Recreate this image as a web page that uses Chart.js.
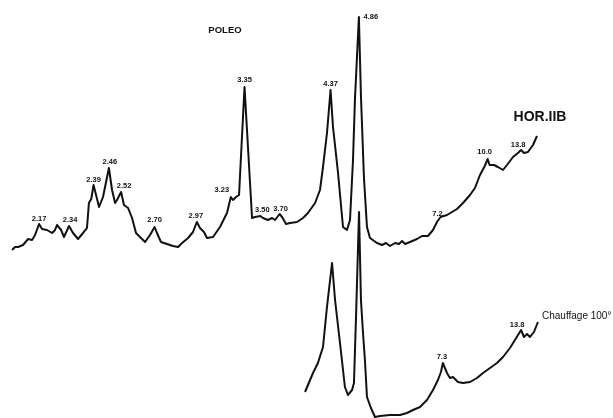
<!DOCTYPE html>
<html>
<head>
<meta charset="utf-8">
<script src="https://cdn.jsdelivr.net/npm/chart.js@4.4.1/dist/chart.umd.min.js"></script>
<style>
  html, body { margin: 0; padding: 0; background: #fff; }
  #wrap { position: relative; width: 613px; height: 418px; }
</style>
</head>
<body>
<div id="wrap"><canvas id="xrd"></canvas></div>
<script>
// X-ray diffractogram of sample HOR.IIB (POLEO), Cu Kα radiation.
// x = 2θ in degrees (high angles on the left), y = intensity in arbitrary counts.

// Untreated sample HOR.IIB
const horTwoTheta = [
  43.56, 43.34, 43.12, 42.76, 42.39, 42.10, 41.88, 41.59, 41.37, 41.01,
  40.64, 40.42, 40.28, 39.98, 39.77, 39.40, 39.11, 38.74, 38.38, 38.09,
  37.95, 37.78, 37.61, 37.21, 36.92, 36.49, 36.26, 36.04, 35.90, 35.60,
  35.39, 35.09, 34.80, 34.51, 34.22, 33.85, 33.49, 33.15, 32.98, 32.69,
  32.25, 31.81, 31.44, 31.15, 30.71, 30.35, 30.07, 29.84, 29.55, 29.33,
  28.89, 28.38, 27.87, 27.59, 27.43, 27.21, 26.99, 26.59, 26.04, 25.82,
  25.43, 25.24, 24.88, 24.58, 24.36, 24.03, 23.85, 23.56, 23.27, 22.76,
  22.32, 21.96, 21.44, 21.08, 20.86, 20.57, 20.31, 20.13, 19.77, 19.40,
  19.11, 18.89, 18.67, 18.53, 18.24, 18.09, 17.87, 17.65, 17.43, 16.92,
  16.55, 16.26, 15.97, 15.60, 15.31, 15.09, 14.87, 14.51, 14.00, 13.63,
  13.20, 12.83, 12.54, 12.28, 11.81, 11.44, 11.08, 10.64, 10.13, 9.77,
  9.40, 9.05, 8.84, 8.70, 8.38, 8.09, 7.72, 7.43, 6.99, 6.63,
  6.40, 6.19, 5.90, 5.53, 5.24
];
const horCounts = [
  840, 855, 855, 865, 895, 890, 915, 970, 945, 940,
  925, 940, 965, 940, 905, 960, 925, 895, 925, 950,
  1075, 1095, 1165, 1055, 1105, 1250, 1140, 1075, 1090, 1130,
  1065, 1050, 1000, 925, 905, 880, 915, 955, 925, 880,
  870, 860, 855, 875, 900, 930, 980, 950, 930, 900,
  905, 955, 1025, 1105, 1090, 1105, 1115, 1655, 1000, 1005,
  1010, 1000, 990, 1000, 990, 1020, 1005, 970, 975, 980,
  1000, 1025, 1075, 1140, 1255, 1425, 1640, 1455, 1230, 955,
  940, 990, 1290, 1590, 2005, 1610, 1200, 955, 900, 875,
  865, 875, 860, 875, 870, 885, 870, 880, 895, 910,
  910, 940, 980, 1005, 1015, 1030, 1045, 1075, 1115, 1150,
  1215, 1260, 1295, 1265, 1265, 1255, 1240, 1265, 1305, 1325,
  1340, 1325, 1330, 1365, 1410
];

// Same sample after heating to 100 °C
const heatedTwoTheta = [
  22.17, 21.96, 21.59, 21.23, 20.86, 20.57, 20.20, 19.98, 19.62, 19.26,
  19.04, 18.74, 18.60, 18.45, 18.23, 18.09, 17.94, 17.80, 17.65, 17.36,
  17.07, 16.70, 15.97, 15.24, 14.73, 14.29, 13.78, 13.27, 12.83, 12.47,
  12.25, 12.11, 11.81, 11.59, 11.37, 11.01, 10.64, 10.13, 9.62, 9.18,
  8.67, 8.16, 7.72, 7.21, 6.85, 6.40, 6.19, 5.97, 5.75, 5.46,
  5.17
];
const heatedCounts = [
  130, 165, 225, 275, 355, 555, 775, 590, 375, 155,
  115, 140, 175, 505, 1030, 590, 425, 290, 105, 50,
  5, 10, 15, 15, 25, 40, 55, 90, 140, 190,
  230, 275, 225, 200, 205, 180, 175, 180, 200, 225,
  250, 275, 305, 350, 390, 440, 405, 420, 405, 430,
  480
];

// d-spacings (Å) written above the peaks, with the 2θ of each peak
const horPeakD = ['2.17', '2.34', '2.39', '2.46', '2.52', '2.70', '2.97', '3.23',
                  '3.35', '3.50', '3.70', '4.37', '4.86', '7.2', '10.0', '13.8'];
const horPeakTwoTheta = [41.59, 39.40, 37.61, 36.49, 35.60, 33.15, 30.07, 27.59,
                         26.59, 25.43, 24.03, 20.31, 18.24, 12.28, 8.84, 6.40];
const heatedPeakD = ['7.3', '13.8'];
const heatedPeakTwoTheta = [12.11, 6.40];

// Pixel nudges for each peak label relative to its peak
const horLabelNudge = [[0, -5], [1, -6], [0, -5], [1, -6], [3, -6], [0, -7], [-1, -6], [-9, -7],
                       [0, -7], [2, -6], [1, -5], [0, -6], [12, 0], [-3, -3], [-3, -7], [-3, -5]];
const heatedLabelNudge = [[-1, -6], [-4, -5]];

const FONT = '"Liberation Sans", Arial, Helvetica, sans-serif';

const annotations = {
  id: 'annotations',
  afterDatasetsDraw(chart) {
    const ctx = chart.ctx;
    const xs = chart.scales.x, ys = chart.scales.y;
    const area = chart.chartArea;

    const labelPeaks = (dsIndex, texts, positions, nudges) => {
      const pts = chart.data.datasets[dsIndex].data;
      texts.forEach((t, i) => {
        const pt = pts.reduce((a, b) =>
          Math.abs(b.x - positions[i]) < Math.abs(a.x - positions[i]) ? b : a);
        const px = xs.getPixelForValue(pt.x) + nudges[i][0];
        const py = ys.getPixelForValue(pt.y) + nudges[i][1];
        ctx.fillText(t, px, py);
      });
    };

    ctx.save();
    ctx.fillStyle = '#111';
    ctx.textAlign = 'center';
    ctx.textBaseline = 'middle';
    ctx.font = 'bold 7.5px ' + FONT;
    labelPeaks(0, horPeakD, horPeakTwoTheta, horLabelNudge);
    labelPeaks(1, heatedPeakD, heatedPeakTwoTheta, heatedLabelNudge);

    ctx.font = 'bold 9.5px ' + FONT;
    ctx.fillText('POLEO', area.left + 225, area.top + 30);

    ctx.font = 'bold 14px ' + FONT;
    ctx.fillText('HOR.IIB', area.left + 540, area.top + 117);

    ctx.font = '10px ' + FONT;
    ctx.textAlign = 'left';
    ctx.fillText('Chauffage 100°', area.left + 542, area.top + 316);
    ctx.restore();
  }
};

const traceStyle = {
  borderColor: '#111',
  borderWidth: 2,
  borderJoinStyle: 'round',
  pointRadius: 0,
  tension: 0,
  fill: false
};

new Chart(document.getElementById('xrd'), {
  type: 'line',
  data: {
    datasets: [
      Object.assign({ label: 'HOR.IIB', data: horTwoTheta.map((x, i) => ({ x, y: horCounts[i] })) }, traceStyle),
      Object.assign({ label: 'Chauffage 100°', data: heatedTwoTheta.map((x, i) => ({ x, y: heatedCounts[i] })) }, traceStyle)
    ]
  },
  options: {
    responsive: true,
    maintainAspectRatio: false,
    animation: false,
    layout: { padding: 0 },
    plugins: { legend: { display: false }, tooltip: { enabled: false } },
    scales: {
      x: { type: 'linear', reverse: true, min: -0.31, max: 44.44, display: false },
      y: { type: 'linear', min: 0, max: 2090, display: false }
    }
  },
  plugins: [annotations]
});
</script>
</body>
</html>
